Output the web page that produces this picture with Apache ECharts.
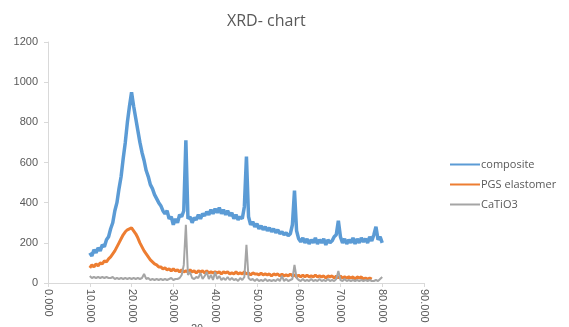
<!DOCTYPE html>
<html>
<head>
<meta charset="utf-8">
<script src="https://cdn.jsdelivr.net/npm/echarts@6/dist/echarts.min.js"></script>
<style>
  html, body { margin: 0; padding: 0; background: #fff; }
  #chart { width: 569px; height: 327px; }
</style>
</head>
<body>
<div id="chart"></div>
<script>
// scan runs from 10 to 80 deg, one reading every 0.5 deg
const scanStart = 10;
const scanStep = 0.5;

const composite = [
  150, 135, 165, 150, 175, 160, 190, 180, 215, 230,
  270, 300, 360, 400, 470, 530, 620, 700, 800, 880,
  950, 880, 820, 760, 700, 650, 610, 560, 530, 490,
  470, 440, 420, 400, 385, 360, 345, 360, 320, 330,
  290, 320, 300, 340, 330, 360, 710, 320, 330, 300,
  325, 315, 340, 320, 345, 335, 355, 340, 365, 345,
  370, 350, 375, 345, 365, 340, 360, 335, 350, 320,
  340, 315, 330, 320, 380, 630, 330, 290, 305, 280,
  295, 270, 285, 265, 280, 260, 275, 255, 270, 250,
  265, 245, 255, 240, 250, 235, 245, 290, 460, 260,
  220, 205, 225, 200, 220, 195, 215, 200, 225, 195,
  215, 200, 220, 190, 215, 200, 210, 230, 240, 310,
  230, 200, 220, 195, 215, 200, 225, 195, 220, 200,
  225, 205, 220, 200, 230, 210, 240, 280, 215, 230,
  200
];

const pgsElastomer = [
  75, 90, 80, 95, 85, 100, 95, 110, 105, 120,
  130, 145, 160, 180, 200, 220, 240, 255, 265, 270,
  275, 260, 245, 225, 200, 180, 160, 145, 130, 115,
  105, 95, 90, 80, 80, 70, 75, 65, 70, 60,
  70, 60, 65, 55, 65, 55, 60, 55, 65, 55,
  60, 50, 60, 55, 60, 50, 60, 50, 55, 50,
  55, 50, 55, 45, 55, 50, 55, 45, 50, 45,
  55, 45, 50, 45, 55, 45, 50, 40, 50, 45,
  45, 40, 50, 40, 45, 40, 45, 35, 45, 40,
  45, 35, 45, 35, 40, 35, 45, 35, 40, 30,
  40, 30, 40, 30, 40, 30, 35, 30, 40, 30,
  35, 30, 35, 25, 35, 30, 35, 25, 35, 25,
  35, 25, 30, 25, 30, 25, 30, 20, 30, 25,
  30, 20, 25, 20, 25, 20
];

const caTiO3 = [
  35, 25, 30, 25, 30, 25, 30, 25, 30, 25,
  25, 30, 20, 25, 20, 25, 20, 25, 20, 25,
  20, 25, 20, 25, 20, 25, 45, 20, 25, 15,
  20, 15, 20, 15, 20, 15, 20, 15, 20, 25,
  15, 20, 20, 25, 40, 90, 290, 40, 55, 25,
  20, 30, 25, 50, 20, 35, 55, 20, 40, 15,
  55, 20, 35, 15, 25, 15, 30, 15, 25, 15,
  20, 10, 25, 15, 30, 190, 25, 15, 20, 10,
  20, 10, 15, 10, 20, 10, 15, 10, 15, 10,
  20, 10, 35, 10, 20, 10, 15, 20, 90, 25,
  15, 10, 20, 10, 15, 10, 20, 10, 15, 10,
  20, 10, 15, 10, 20, 10, 15, 10, 20, 60,
  15, 10, 20, 10, 15, 10, 15, 10, 15, 10,
  15, 10, 15, 10, 15, 10, 10, 15, 10, 20,
  30
];

const seriesNames = ["composite", "PGS elastomer", "CaTiO3"];
const seriesColors = ["#5b9bd5", "#ed7d31", "#a5a5a5"];
const seriesWidths = [3.5, 3, 2];

const toPairs = (vals) => vals.map((v, i) => [scanStart + i * scanStep, v]);

const textColor = "#595959";
const axisColor = "#d9d9d9";

const chart = echarts.init(document.getElementById("chart"));

chart.setOption({
  backgroundColor: "#fff",
  animation: false,
  title: {
    text: "XRD- chart",
    left: 222,
    top: 8,
    textStyle: { color: textColor, fontSize: 16, fontWeight: "normal", fontFamily: "Open Sans" },
  },
  legend: {
    orient: "vertical",
    left: 445,
    top: 153,
    icon: "rect",
    itemWidth: 30,
    itemHeight: 2,
    itemGap: 7,
    data: seriesNames,
    textStyle: { color: textColor, fontSize: 11, fontFamily: "Open Sans", padding: [0, 0, 0, -4], lineHeight: 13 },
  },
  grid: { left: 48, right: 145, top: 42, bottom: 44, outerBoundsMode: "none", containLabel: false },
  xAxis: {
    type: "value",
    min: 0,
    max: 90,
    interval: 10,
    name: "2θ",
    nameLocation: "middle",
    nameGap: 40,
    nameMoveOverlap: false,
    nameTextStyle: { color: textColor, fontSize: 11, padding: [0, 78, 0, 0] },
    axisLine: { lineStyle: { color: axisColor } },
    axisTick: { show: true, length: 4, lineStyle: { color: axisColor } },
    splitLine: { show: false },
    axisLabel: {
      color: textColor,
      fontSize: 11,
      rotate: -90,
      margin: 6,
      formatter: (v) => v.toFixed(3),
    },
  },
  yAxis: {
    type: "value",
    min: 0,
    max: 1200,
    interval: 200,
    axisLine: { show: true, lineStyle: { color: axisColor } },
    axisTick: { show: true, length: 4, lineStyle: { color: axisColor } },
    splitLine: { show: false },
    axisLabel: { color: textColor, fontSize: 11, margin: 10, formatter: (v) => String(v) },
  },
  series: [composite, pgsElastomer, caTiO3].map((vals, k) => ({
    name: seriesNames[k],
    type: "line",
    data: toPairs(vals),
    symbol: "none",
    lineStyle: { width: seriesWidths[k], color: seriesColors[k] },
    itemStyle: { color: seriesColors[k] },
    z: 2 + k,
  })),
});
</script>
</body>
</html>
